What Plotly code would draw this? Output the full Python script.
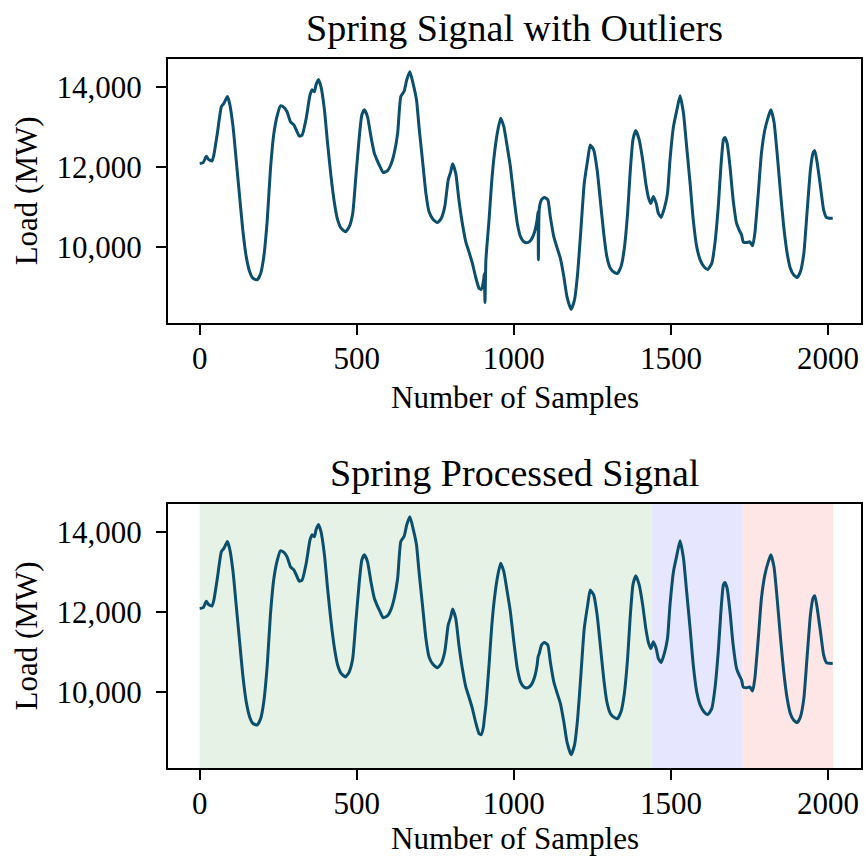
import plotly.graph_objects as go

# Sample index and load (MW), raw signal incl. outliers
sample_idx = [0, 11, 21, 28, 39, 45, 56, 69, 77, 88, 95, 106, 116, 127, 137, 148, 159, 169, 183, 194,
              204, 215, 225, 236, 247, 257, 268, 278, 289, 300, 310, 317, 326, 339, 351, 358, 365, 370,
              378, 386, 397, 407, 418, 429, 439, 450, 464, 476, 487, 497, 508, 516, 524, 534, 545, 556,
              564, 574, 584, 598, 608, 619, 630, 640, 651, 659, 669, 679, 690, 698, 709, 720, 730, 743,
              757, 769, 780, 791, 799, 805, 815, 825, 836, 847, 857, 868, 878, 889, 896, 903, 906, 908,
              911, 921, 929, 937, 947, 958, 968, 979, 989, 1000, 1011, 1021, 1032, 1044, 1055, 1066,
              1074, 1077, 1078, 1081, 1088, 1097, 1108, 1116, 1127, 1138, 1148, 1159, 1169, 1182, 1193,
              1203, 1214, 1224, 1235, 1243, 1254, 1265, 1275, 1286, 1296, 1307, 1321, 1330, 1341, 1351,
              1362, 1370, 1379, 1388, 1399, 1410, 1420, 1429, 1436, 1444, 1453, 1460, 1469, 1479, 1489,
              1497, 1508, 1519, 1529, 1540, 1550, 1561, 1571, 1582, 1593, 1605, 1617, 1630, 1640, 1651,
              1659, 1667, 1672, 1679, 1688, 1698, 1709, 1717, 1725, 1730, 1741, 1751, 1760, 1767, 1778,
              1788, 1799, 1810, 1818, 1828, 1838, 1849, 1859, 1870, 1880, 1891, 1902, 1912, 1923, 1933,
              1944, 1952, 1958, 1965, 1976, 1986, 1995, 2005, 2015]
load_mw = [12090, 12110, 12270, 12190, 12150, 12300, 12840, 13510, 13590, 13760, 13590, 13010, 12180,
           11260, 10430, 9760, 9380, 9220, 9180, 9340, 9760, 10680, 11930, 12840, 13300, 13530, 13490,
           13380, 13130, 13050, 12880, 12770, 12800, 13220, 13800, 13930, 13880, 14050, 14190, 14010,
           13430, 12590, 11760, 11090, 10680, 10470, 10380, 10510, 10840, 11760, 12760, 13300, 13430,
           13260, 12760, 12340, 12180, 12010, 11860, 11910, 12050, 12340, 12840, 13760, 13900, 14180,
           14380, 14090, 13680, 13010, 12180, 11340, 10880, 10690, 10610, 10720, 11010, 11680, 11880,
           12080, 11840, 11180, 10590, 10130, 9880, 9590, 9260, 8970, 8940, 9130, 9340, 8610,
           9680, 10680, 11590, 12260, 12840, 13220, 13010, 12500, 12000, 11250, 10590, 10260, 10130,
           10110, 10180, 10380, 10680, 10880, 9680, 10970, 11180, 11240, 11180, 10760, 10260, 9970,
           9720, 9260, 8760, 8440, 8680, 9340, 10510, 11590, 12180, 12550, 12430, 11930, 11180, 10340,
           9760, 9470, 9360, 9340, 9510, 9930, 10840, 11840, 12680, 12910, 12680, 12180, 11590, 11220,
           11090, 11260, 11090, 10840, 10740, 10970, 11340, 12180, 13010, 13430, 13780, 13340, 12510,
           11590, 10680, 10010, 9680, 9510, 9440, 9590, 10090, 11050, 12010, 12680, 12740, 12590,
           12010, 11180, 10590, 10430, 10300, 10130, 10110, 10130, 10030, 10340, 11340, 12340, 12930,
           13260, 13430, 13130, 12340, 11340, 10510, 9840, 9470, 9300, 9240, 9380, 9840, 10840, 11930,
           12340, 12410, 12130, 11510, 10930, 10740, 10720, 10720]
# Sample indices of the outlier spikes (removed in the processed signal)
outlier_idx = [908, 1078]

# Split boundaries for shaded regions (train / validation / test)
split_names = ["train", "validation", "test"]
split_start = [0, 1440, 1728]
split_end = [1440, 1728, 2016]
split_colors = ["#e6f2e6", "#e6e6ff", "#ffe6e6"]

proc_idx = [s for s in sample_idx if s not in outlier_idx]
proc_load = [v for s, v in zip(sample_idx, load_mw) if s not in outlier_idx]

LINE = "#0b4f6c"
FONT = "Liberation Serif"

fig = go.Figure()
fig.add_trace(go.Scatter(x=sample_idx, y=load_mw, mode="lines",
                         line=dict(color=LINE, width=3, shape="spline", smoothing=0.5),
                         xaxis="x", yaxis="y", showlegend=False))
fig.add_trace(go.Scatter(x=proc_idx, y=proc_load, mode="lines",
                         line=dict(color=LINE, width=3, shape="spline", smoothing=0.5),
                         xaxis="x2", yaxis="y2", showlegend=False))

shapes = []
for a, b, c in zip(split_start, split_end, split_colors):
    shapes.append(dict(type="rect", xref="x2", yref="y2 domain", x0=a, x1=b, y0=0, y1=1,
                       fillcolor=c, line=dict(width=0), layer="below"))

xr = [-101, 2105]
yr = [8107, 14700]
common_x = dict(range=xr, tickvals=[0, 500, 1000, 1500, 2000], ticks="outside", ticklen=10,
                tickwidth=2, tickcolor="black", showline=True, mirror=True, linewidth=2,
                linecolor="black", showgrid=False, zeroline=False,
                tickfont=dict(family=FONT, size=31, color="black"),
                ticklabelstandoff=-3)
common_y = dict(range=yr, tickvals=[10000, 12000, 14000], tickformat=",d", ticks="outside",
                ticklen=10, tickwidth=2, tickcolor="black", showline=True, mirror=True,
                linewidth=2, linecolor="black", showgrid=False, zeroline=False,
                tickfont=dict(family=FONT, size=31, color="black"),
                title=dict(text="Load (MW)", font=dict(family=FONT, size=31, color="black"),
                           standoff=10),
                ticklabelstandoff=8)

title_font = dict(family=FONT, size=38, color="black")
label_font = dict(family=FONT, size=31, color="black")

fig.update_layout(
    width=865, height=859, autosize=False,
    margin=dict(l=168, r=2, t=59, b=91),
    paper_bgcolor="white", plot_bgcolor="white",
    xaxis=dict(domain=[0, 1], anchor="y", **common_x),
    yaxis=dict(domain=[0.628, 1], anchor="x", **common_y),
    xaxis2=dict(domain=[0, 1], anchor="y2", **common_x),
    yaxis2=dict(domain=[0, 0.3724], anchor="x2", **common_y),
    shapes=shapes,
    annotations=[
        dict(text="Spring Signal with Outliers", xref="paper", yref="paper", x=0.5, y=1,
             xanchor="center", yanchor="bottom", yshift=8, showarrow=False, font=title_font),
        dict(text="Spring Processed Signal", xref="paper", yref="paper", x=0.5, y=0.3724,
             xanchor="center", yanchor="bottom", yshift=8, showarrow=False, font=title_font),
        dict(text="Number of Samples", xref="paper", yref="paper", x=0.5, y=0.5219,
             xanchor="center", yanchor="middle", showarrow=False, font=label_font),
        dict(text="Number of Samples", xref="paper", yref="paper", x=0.5, y=-0.0995,
             xanchor="center", yanchor="middle", showarrow=False, font=label_font),
    ],
)

fig.write_html("out.html")
